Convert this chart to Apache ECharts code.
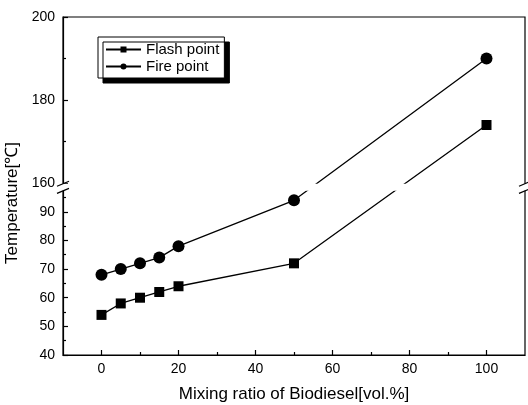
<!DOCTYPE html>
<html><head><meta charset="utf-8">
<script src="https://cdn.jsdelivr.net/npm/echarts@6/dist/echarts.min.js"></script>
<style>html,body{margin:0;padding:0;background:#fff}#c{width:528px;height:405px}</style>
</head><body><div id="c"></div>
<script>
const ratio = [0, 5, 10, 15, 20, 50, 100];
const flashPoint = [54, 58, 60, 62, 64, 72, 174];
const firePoint = [68, 70, 72, 74, 78, 94, 190];
const yMajorTicks = [40, 50, 60, 70, 80, 90, 160, 180, 200];
const yMinorTicks = [45, 55, 65, 75, 85, 95, 170, 190];
const xMajorTicks = [0, 20, 40, 60, 80, 100];
const xMinorTicks = [10, 30, 50, 70, 90];

// Broken y scale: lower segment 40..~97 is linear, upper segment 160..200 is stretched
const UPPER_START = 160, UPPER_BASE = 100, UPPER_FACTOR = 1.45;
function toD(v) { return v < 130 ? v : UPPER_BASE + (v - UPPER_START) * UPPER_FACTOR; }
function fromD(d) { return d < 98.5 ? d : UPPER_START + (d - UPPER_BASE) / UPPER_FACTOR; }
const BREAK_LOW_D = 97.3, BREAK_HIGH_D = 99.8;

const FONT = 'Liberation Sans, Arial, sans-serif';
const chart = echarts.init(document.getElementById('c'), null, {renderer: 'canvas'});
const yMin = toD(40), yMax = toD(200);
const axisLineStyle = {color: '#000', width: 1.2};

chart.setOption({
  animation: false,
  backgroundColor: '#fff',
  textStyle: {fontFamily: FONT, color: '#000'},
  grid: {left: 63, right: 3, top: 17, bottom: 50, outerBoundsMode: 'none', containLabel: false,
    show: true, borderColor: '#000', borderWidth: 1.2, backgroundColor: 'transparent'},
  legend: {
    orient: 'vertical', left: 98, top: 37,
    itemWidth: 35, itemHeight: 7.5, itemGap: 2,
    padding: [5, 5, 4, 7],
    borderColor: '#000', borderWidth: 1, backgroundColor: '#fff',
    shadowColor: '#000', shadowBlur: 0, shadowOffsetX: 5, shadowOffsetY: 5,
    textStyle: {fontSize: 15, color: '#000', fontFamily: FONT},
    data: ['Flash point', 'Fire point']
  },
  xAxis: [{
    type: 'value', min: -10, max: 110,
    name: 'Mixing ratio of Biodiesel[vol.%]', nameLocation: 'middle', nameGap: 31,
    nameTextStyle: {fontSize: 17, color: '#000', fontFamily: FONT},
    axisLine: {show: true, onZero: false, lineStyle: axisLineStyle},
    axisTick: {show: true, inside: true, length: 5, customValues: xMajorTicks, lineStyle: axisLineStyle},
    axisLabel: {customValues: xMajorTicks, fontSize: 14, color: '#000', margin: 7, fontFamily: FONT},
    splitLine: {show: false}
  }, {
    type: 'value', min: -10, max: 110, position: 'bottom',
    axisLine: {show: false, onZero: false},
    axisTick: {show: true, inside: true, length: 3, customValues: xMinorTicks, lineStyle: axisLineStyle},
    axisLabel: {show: false, customValues: xMinorTicks},
    splitLine: {show: false}
  }],
  yAxis: [{
    type: 'value', min: yMin, max: yMax,
    name: 'Temperature[℃]', nameLocation: 'middle', nameGap: 37,
    nameTextStyle: {fontSize: 17, color: '#000', fontFamily: FONT, padding: [0, 34, 0, 0]},
    axisLine: {show: true, onZero: false, lineStyle: axisLineStyle},
    axisTick: {show: true, inside: true, length: 5, customValues: yMajorTicks.map(toD), lineStyle: axisLineStyle},
    axisLabel: {customValues: yMajorTicks.map(toD), fontSize: 14, color: '#000', margin: 8, fontFamily: FONT,
      formatter: v => String(Math.round(fromD(v)))},
    splitLine: {show: false}
  }, {
    type: 'value', min: yMin, max: yMax, position: 'left',
    axisLine: {show: false, onZero: false},
    axisTick: {show: true, inside: true, length: 3, customValues: yMinorTicks.map(toD), lineStyle: axisLineStyle},
    axisLabel: {show: false, customValues: yMinorTicks.map(toD)},
    splitLine: {show: false}
  }],
  series: [{
    name: 'Flash point', type: 'line', xAxisIndex: 0, yAxisIndex: 0,
    data: ratio.map((x, i) => [x, toD(flashPoint[i])]),
    symbol: 'rect', symbolSize: 10, showAllSymbol: true,
    lineStyle: {color: '#000', width: 1.3}, itemStyle: {color: '#000'}, clip: false, z: 3
  }, {
    name: 'Fire point', type: 'line', xAxisIndex: 0, yAxisIndex: 0,
    data: ratio.map((x, i) => [x, toD(firePoint[i])]),
    symbol: 'circle', symbolSize: 12, showAllSymbol: true,
    lineStyle: {color: '#000', width: 1.3}, itemStyle: {color: '#000'}, clip: false, z: 3
  }]
});

// axis break band and slash marks
const yHi = chart.convertToPixel({yAxisIndex: 0}, BREAK_HIGH_D);
const yLo = chart.convertToPixel({yAxisIndex: 0}, BREAK_LOW_D);
const xL = chart.convertToPixel({xAxisIndex: 0}, -10);
const xR = chart.convertToPixel({xAxisIndex: 0}, 110);
const slash = (x, y) => ({type: 'line', z: 101, shape: {x1: x - 6, y1: y + 2.5, x2: x + 6, y2: y - 2.5},
  style: {stroke: '#000', lineWidth: 1.2}});
chart.setOption({
  graphic: [
    {type: 'rect', z: 100, shape: {x: xL - 3, y: yHi, width: xR - xL + 6, height: yLo - yHi}, style: {fill: '#fff'}},
    slash(xL, yHi), slash(xL, yLo), slash(xR, yHi), slash(xR, yLo)
  ]
});
</script>
</body></html>
